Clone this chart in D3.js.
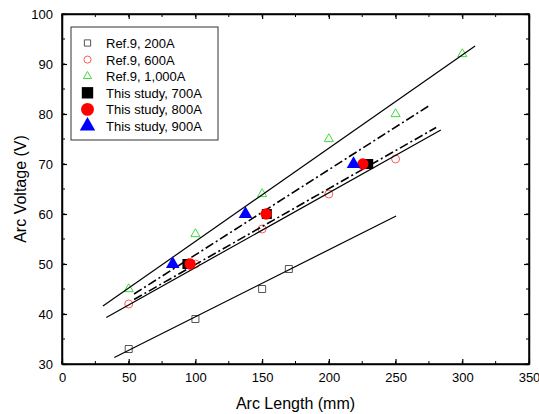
<!DOCTYPE html>
<html>
<head>
<meta charset="utf-8">
<script src="https://cdn.jsdelivr.net/npm/d3@7"></script>
<style>
body{margin:0;background:#fff;}
text{font-family:"Liberation Sans",Arial,sans-serif;}
</style>
</head>
<body>
<svg></svg>
<script>
// data
var xTicks = [0,50,100,150,200,250,300,350]
var yTicks = [30,40,50,60,70,80,90,100]

var ref200 = [[50,33],[100,39],[150,45],[170,49]]
var ref600 = [[50,42],[100,50],[150,57],[200,64],[250,71]]
var ref1000 = [[50,45],[100,56],[150,64],[200,75],[250,80],[300,92]]
var study700 = [[94,50],[153.5,60],[229.5,70]]
var study800 = [[96,50],[153,60],[225.5,70]]
var study900 = [[83,50],[137.5,60],[218.5,70]]

// fitted lines [x0,y0,x1,y1]
var solidLines = [
    [30.7,41.6,309.6,93.6],
    [33.2,39.3,283.9,76.8],
    [39.2,31.3,250.4,59.6]
]
var dashLines = [
    [54,44,275.9,81.8],
    [54,42.9,280.4,77.3]
]

var legendNames = ["Ref.9, 200A","Ref.9, 600A","Ref.9, 1,000A",
                   "This study, 700A","This study, 800A","This study, 900A"]

var screen = {width:539,height:414}
var margins = {left:62,right:10,top:14,bottom:50}
var graph = {
    width:screen.width-margins.left-margins.right,
    height:screen.height-margins.top-margins.bottom
}

var svg = d3.select("svg")
    .attr("width",screen.width)
    .attr("height",screen.height)

var xScale = d3.scaleLinear().domain([0,350]).range([0,graph.width])
var yScale = d3.scaleLinear().domain([30,100]).range([graph.height,0])

var target = svg.append("g")
    .attr("transform","translate("+margins.left+","+margins.top+")")

// marker styles per series
var styles = [
    {data:ref200, type:d3.symbolSquare, size:49, fill:"none", stroke:"#555", sw:1},
    {data:ref600, type:d3.symbolCircle, size:50, fill:"none", stroke:"#ff5a5a", sw:1},
    {data:ref1000, type:d3.symbolTriangle, size:36, fill:"none", stroke:"#3ddc3d", sw:1},
    {data:study700, type:d3.symbolSquare, size:100, fill:"#000", stroke:"none", sw:0},
    {data:study800, type:d3.symbolCircle, size:100, fill:"#ff0000", stroke:"none", sw:0},
    {data:study900, type:d3.symbolTriangle, size:80, fill:"#0000ff", stroke:"none", sw:0}
]

var drawSeries = function(s)
{
    target.append("g")
        .selectAll("path")
        .data(s.data)
        .enter()
        .append("path")
        .attr("transform",function(d){
            return "translate("+xScale(d[0])+","+yScale(d[1])+")"
        })
        .attr("d",d3.symbol().type(s.type).size(s.size))
        .attr("fill",s.fill)
        .attr("stroke",s.stroke)
        .attr("stroke-width",s.sw)
}

var drawLines = function(lines,dash)
{
    target.append("g")
        .selectAll("line")
        .data(lines)
        .enter()
        .append("line")
        .attr("x1",function(d){return xScale(d[0])})
        .attr("y1",function(d){return yScale(d[1])})
        .attr("x2",function(d){return xScale(d[2])})
        .attr("y2",function(d){return yScale(d[3])})
        .attr("stroke","#000")
        .attr("stroke-width",dash?1.6:1.2)
        .attr("stroke-dasharray",dash?"9,3,2,3":null)
}

drawSeries(styles[0])
drawSeries(styles[1])
drawSeries(styles[2])
drawLines(solidLines,false)
drawLines(dashLines,true)
drawSeries(styles[3])
drawSeries(styles[4])
drawSeries(styles[5])

//Axes
var xMinor = d3.range(0,351,25)
var yMinor = d3.range(30,101,5)
var drawAxes = function()
{
    var axes = svg.append("g")
    var bottom = axes.append("g")
        .attr("transform","translate("+margins.left+","+(margins.top+graph.height)+")")
    bottom.call(d3.axisBottom(xScale).tickValues(xTicks).tickSizeInner(-5).tickSizeOuter(0).tickPadding(9))
    bottom.selectAll(".minor").data(xMinor).enter().append("line")
        .attr("x1",xScale).attr("x2",xScale).attr("y1",0).attr("y2",-3)
        .attr("stroke","#000")

    var top = axes.append("g")
        .attr("transform","translate("+margins.left+","+margins.top+")")
    top.call(d3.axisTop(xScale).tickValues(xTicks).tickSizeInner(-5).tickSizeOuter(0).tickFormat(""))
    top.selectAll(".minor").data(xMinor).enter().append("line")
        .attr("x1",xScale).attr("x2",xScale).attr("y1",0).attr("y2",3)
        .attr("stroke","#000")

    var left = axes.append("g")
        .attr("transform","translate("+margins.left+","+margins.top+")")
    left.call(d3.axisLeft(yScale).tickValues(yTicks).tickSizeInner(-5).tickSizeOuter(0).tickPadding(9))
    left.selectAll(".minor").data(yMinor).enter().append("line")
        .attr("y1",yScale).attr("y2",yScale).attr("x1",0).attr("x2",3)
        .attr("stroke","#000")

    var right = axes.append("g")
        .attr("transform","translate("+(margins.left+graph.width)+","+margins.top+")")
    right.call(d3.axisRight(yScale).tickValues(yTicks).tickSizeInner(-5).tickSizeOuter(0).tickFormat(""))
    right.selectAll(".minor").data(yMinor).enter().append("line")
        .attr("y1",yScale).attr("y2",yScale).attr("x1",0).attr("x2",-3)
        .attr("stroke","#000")

    axes.selectAll(".domain").attr("stroke","#000").attr("stroke-width",1.5)
    axes.selectAll(".tick line").attr("stroke-width",1.2)
    axes.selectAll(".tick text").attr("font-size",13).attr("fill","#000")
        .style("font-family","'Liberation Sans',Arial,sans-serif")

    // frame
    svg.append("rect")
        .attr("x",margins.left).attr("y",margins.top)
        .attr("width",graph.width).attr("height",graph.height)
        .attr("fill","none").attr("stroke","#000").attr("stroke-width",1.5)
}
drawAxes()

//Labels
var labels = svg.append("g")
labels.append("text")
    .text("Arc Length (mm)")
    .attr("text-anchor","middle")
    .attr("font-size",16)
    .attr("x",margins.left+graph.width/2)
    .attr("y",409)
labels.append("g")
    .attr("transform","translate(26,"+(margins.top+graph.height/2)+")")
    .append("text")
    .text("Arc Voltage (V)")
    .attr("text-anchor","middle")
    .attr("font-size",16)
    .attr("transform","rotate(270)")

//Legend
var legend = svg.append("g")
    .attr("transform","translate(71,27)")
legend.append("rect")
    .attr("width",147).attr("height",113)
    .attr("fill","#fff").attr("stroke","#333").attr("stroke-width",1)
var entries = legend.selectAll(".legendEntry")
    .data(legendNames)
    .enter()
    .append("g")
    .classed("legendEntry",true)
    .attr("transform",function(d,i){return "translate(0,"+(16+i*16.6)+")"})
entries.append("path")
    .attr("transform","translate(16.5,0)")
    .attr("d",function(d,i){
        var s = styles[i]
        return d3.symbol().type(s.type).size(s.size*(i>2?1.3:0.8))()
    })
    .attr("fill",function(d,i){return styles[i].fill})
    .attr("stroke",function(d,i){return styles[i].stroke})
    .attr("stroke-width",function(d,i){return styles[i].sw})
entries.append("text")
    .text(function(d){return d})
    .attr("x",35)
    .attr("y",5)
    .attr("font-size",13)
</script>
</body>
</html>
